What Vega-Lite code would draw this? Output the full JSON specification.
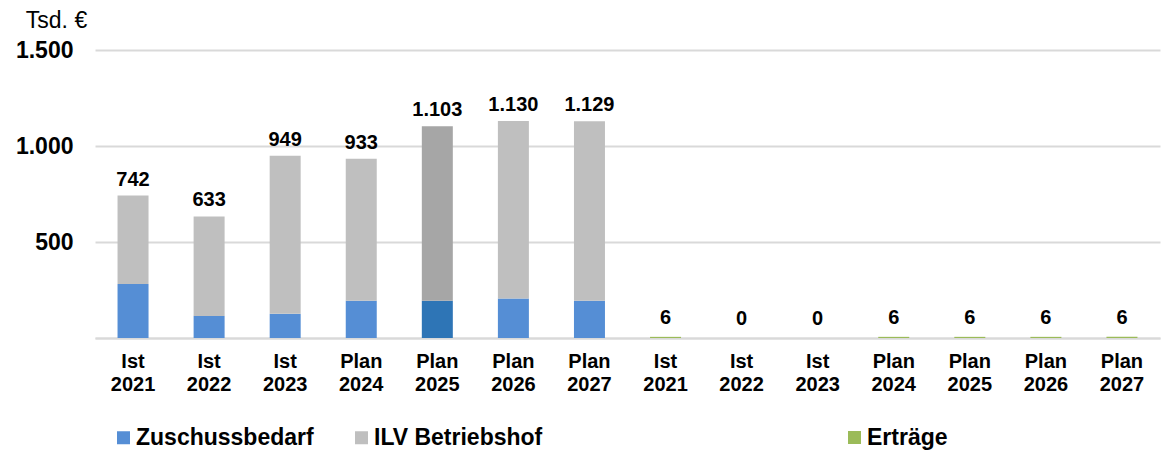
{
  "$schema": "https://vega.github.io/schema/vega-lite/v6.json",
  "autosize": "none",
  "padding": {"left": 95, "top": 50, "right": 7, "bottom": 112},
  "width": 1065,
  "height": 288,
  "background": "white",
  "config": {
    "locale": {"number": {"decimal": ",", "thousands": ".", "grouping": [3], "currency": ["", " €"]}},
    "font": "Liberation Sans",
    "view": {"stroke": null},
    "axis": {"labelFont": "Liberation Sans", "titleFont": "Liberation Sans"}
  },
  "datasets": {
    "bars": [
      {"cat": "Ist 2021|a", "series": "Zuschussbedarf", "value": 281, "ord": 1},
      {"cat": "Ist 2021|a", "series": "ILV Betriebshof", "value": 461, "ord": 2},
      {"cat": "Ist 2022|a", "series": "Zuschussbedarf", "value": 115, "ord": 1},
      {"cat": "Ist 2022|a", "series": "ILV Betriebshof", "value": 518, "ord": 2},
      {"cat": "Ist 2023|a", "series": "Zuschussbedarf", "value": 126, "ord": 1},
      {"cat": "Ist 2023|a", "series": "ILV Betriebshof", "value": 823, "ord": 2},
      {"cat": "Plan 2024|a", "series": "Zuschussbedarf", "value": 194, "ord": 1},
      {"cat": "Plan 2024|a", "series": "ILV Betriebshof", "value": 739, "ord": 2},
      {"cat": "Plan 2025|a", "series": "Zuschussbedarf 2025", "value": 194, "ord": 1},
      {"cat": "Plan 2025|a", "series": "ILV Betriebshof 2025", "value": 909, "ord": 2},
      {"cat": "Plan 2026|a", "series": "Zuschussbedarf", "value": 206, "ord": 1},
      {"cat": "Plan 2026|a", "series": "ILV Betriebshof", "value": 924, "ord": 2},
      {"cat": "Plan 2027|a", "series": "Zuschussbedarf", "value": 194, "ord": 1},
      {"cat": "Plan 2027|a", "series": "ILV Betriebshof", "value": 935, "ord": 2}
    ],
    "totals": [
      {"cat": "Ist 2021|a", "total": 742},
      {"cat": "Ist 2022|a", "total": 633},
      {"cat": "Ist 2023|a", "total": 949},
      {"cat": "Plan 2024|a", "total": 933},
      {"cat": "Plan 2025|a", "total": 1103},
      {"cat": "Plan 2026|a", "total": 1130},
      {"cat": "Plan 2027|a", "total": 1129}
    ],
    "ertraege": [
      {"cat": "Ist 2021|b", "series": "Erträge", "value": 6},
      {"cat": "Ist 2022|b", "series": "Erträge", "value": 0},
      {"cat": "Ist 2023|b", "series": "Erträge", "value": 0},
      {"cat": "Plan 2024|b", "series": "Erträge", "value": 6},
      {"cat": "Plan 2025|b", "series": "Erträge", "value": 6},
      {"cat": "Plan 2026|b", "series": "Erträge", "value": 6},
      {"cat": "Plan 2027|b", "series": "Erträge", "value": 6}
    ]
  },
  "encoding": {
    "x": {
      "field": "cat",
      "type": "nominal",
      "sort": null,
      "scale": {
        "domain": ["Ist 2021|a", "Ist 2022|a", "Ist 2023|a", "Plan 2024|a", "Plan 2025|a", "Plan 2026|a", "Plan 2027|a",
                   "Ist 2021|b", "Ist 2022|b", "Ist 2023|b", "Plan 2024|b", "Plan 2025|b", "Plan 2026|b", "Plan 2027|b"],
        "paddingInner": 0, "paddingOuter": 0
      },
      "axis": {
        "title": null,
        "labelAngle": 0,
        "labelExpr": "split(split(datum.label, '|')[0], ' ')",
        "labelFontSize": 20,
        "labelFontWeight": "bold",
        "labelColor": "#000000",
        "labelLineHeight": 23,
        "labelBaseline": "top",
        "labelPadding": 13,
        "ticks": false,
        "domain": true,
        "domainColor": "#D9D9D9",
        "domainWidth": 2,
        "grid": false
      }
    }
  },
  "layer": [
    {
      "data": {"name": "bars"},
      "mark": {"type": "bar", "size": 31},
      "encoding": {
        "y": {
          "field": "value",
          "type": "quantitative",
          "stack": "zero",
          "scale": {"domain": [0, 1500], "nice": false},
          "axis": {
            "values": [0, 500, 1000, 1500],
            "format": ",d",
            "labelExpr": "datum.value == 0 ? '' : datum.label",
            "labelFontSize": 23,
            "labelFontWeight": "bold",
            "labelColor": "#000000",
            "labelPadding": 22,
            "ticks": false,
            "domain": false,
            "grid": true,
            "gridColor": "#D9D9D9",
            "gridWidth": 2,
            "title": "Tsd. €",
            "titleAngle": 0,
            "titleFontSize": 23,
            "titleFontWeight": "normal",
            "titleColor": "#000000",
            "titleAlign": "center",
            "titleBaseline": "middle",
            "titleX": -39,
            "titleY": -30
          }
        },
        "order": {"field": "ord", "type": "quantitative"},
        "color": {
          "field": "series",
          "type": "nominal",
          "scale": {
            "domain": ["Zuschussbedarf", "ILV Betriebshof", "Zuschussbedarf 2025", "ILV Betriebshof 2025"],
            "range": ["#558ED5", "#BFBFBF", "#2E75B6", "#A6A6A6"]
          },
          "legend": {
            "values": ["Zuschussbedarf", "ILV Betriebshof"],
            "orient": "none",
            "direction": "horizontal",
            "legendX": 17,
            "legendY": 376,
            "padding": 0,
            "title": null,
            "symbolType": "square",
            "symbolSize": 169,
            "symbolStrokeWidth": 0,
            "labelFont": "Liberation Sans",
            "labelFontSize": 23,
            "labelFontWeight": "bold",
            "labelColor": "#000000",
            "labelOffset": 1,
            "labelLimit": 400,
            "columnPadding": 36
          }
        }
      }
    },
    {
      "data": {"name": "totals"},
      "mark": {"type": "text", "baseline": "alphabetic", "dy": -10, "fontSize": 20, "fontWeight": "bold", "color": "#000000", "font": "Liberation Sans"},
      "encoding": {
        "y": {"field": "total", "type": "quantitative"},
        "text": {"field": "total", "type": "quantitative", "format": ",d"}
      }
    },
    {
      "data": {"name": "ertraege"},
      "mark": {"type": "bar", "size": 31},
      "encoding": {
        "y": {"field": "value", "type": "quantitative"},
        "color": {
          "field": "series",
          "type": "nominal",
          "scale": {"domain": ["Erträge"], "range": ["#9BBB59"]},
          "legend": {
            "orient": "none",
            "direction": "horizontal",
            "legendX": 748,
            "legendY": 376,
            "padding": 0,
            "title": null,
            "symbolType": "square",
            "symbolSize": 169,
            "symbolStrokeWidth": 0,
            "labelFont": "Liberation Sans",
            "labelFontSize": 23,
            "labelFontWeight": "bold",
            "labelColor": "#000000",
            "labelOffset": 1,
            "labelLimit": 400
          }
        }
      }
    },
    {
      "data": {"name": "ertraege"},
      "mark": {"type": "text", "baseline": "alphabetic", "dy": -13, "fontSize": 20, "fontWeight": "bold", "color": "#000000", "font": "Liberation Sans"},
      "encoding": {
        "y": {"field": "value", "type": "quantitative"},
        "text": {"field": "value", "type": "quantitative", "format": ",d"}
      }
    }
  ],
  "resolve": {"scale": {"color": "independent"}}
}
